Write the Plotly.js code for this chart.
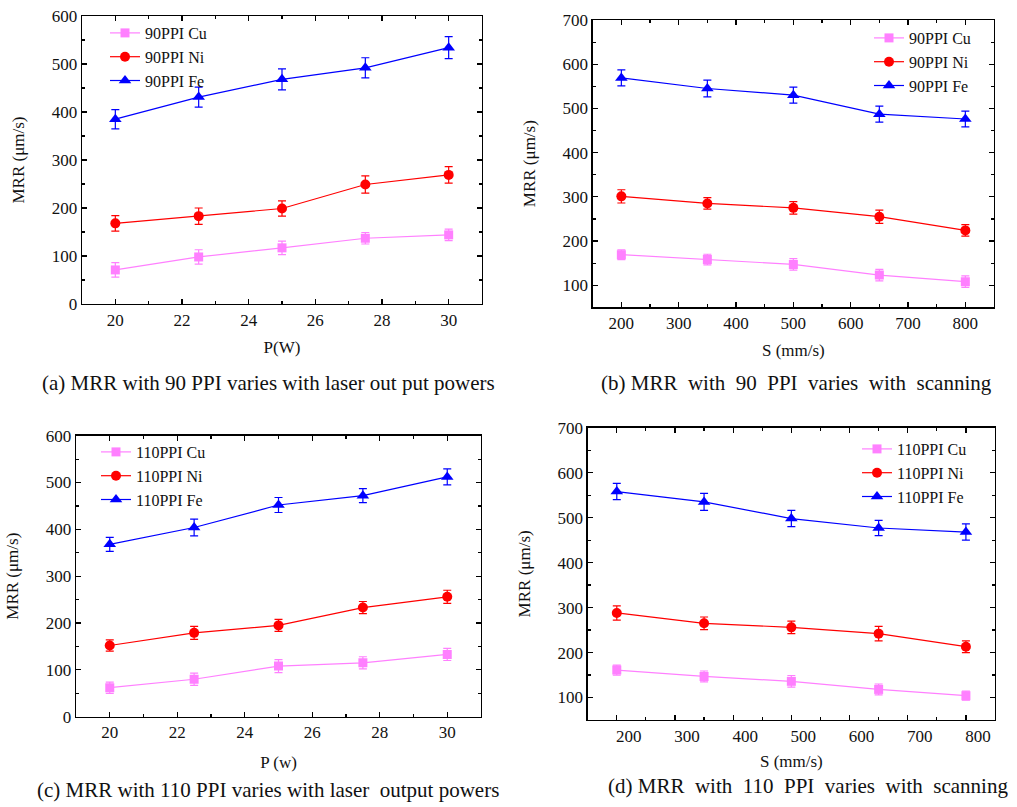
<!DOCTYPE html>
<html>
<head>
<meta charset="utf-8">
<script src="https://cdn.plot.ly/plotly-3.0.1.min.js"></script>
<style>html,body{margin:0;padding:0;background:#fff;}#chart{width:1017px;height:807px;}</style>
</head>
<body>
<div id="chart"></div>
<script>
// ---- Data ----
const powerW = [20, 22.5, 25, 27.5, 30];
const speedS = [200, 350, 500, 650, 800];

// (a) 90 PPI vs laser power
const cuA = [71, 98, 117, 137, 144];
const niA = [168, 183, 199, 249, 269];
const feA = [385, 431, 468, 492, 534];
const cuAErr = [15, 15, 14, 12, 12];
const niAErr = [16, 17, 16, 18, 17];
const feAErr = [20, 21, 22, 21, 23];

// (b) 90 PPI vs scanning speed
const cuB = [169, 158, 147, 123, 108];
const niB = [301, 285, 275, 255, 224];
const feB = [569, 545, 530, 487, 476];
const cuBErr = [11, 12, 13, 13, 13];
const niBErr = [15, 13, 14, 15, 13];
const feBErr = [18, 19, 18, 18, 18];

// (c) 110 PPI vs laser power
const cuC = [62, 80, 108, 115, 133];
const niC = [152, 179, 195, 233, 256];
const feC = [368, 404, 452, 472, 512];
const cuCErr = [12, 13, 14, 13, 13];
const niCErr = [12, 14, 13, 13, 14];
const feCErr = [15, 18, 16, 15, 17];

// (d) 110 PPI vs scanning speed
const cuD = [161, 147, 136, 118, 104];
const niD = [288, 265, 256, 242, 213];
const feD = [558, 535, 498, 477, 468];
const cuDErr = [11, 12, 13, 12, 10];
const niDErr = [16, 14, 14, 16, 13];
const feDErr = [18, 19, 18, 17, 18];

const seriesNames90 = ['90PPI Cu', '90PPI Ni', '90PPI Fe'];
const seriesNames110 = ['110PPI Cu', '110PPI Ni', '110PPI Fe'];
const captions = [
  '(a) MRR with 90 PPI varies with laser out put powers',
  '(b) MRR  with  90  PPI  varies  with  scanning',
  '(c) MRR with 110 PPI varies with laser  output powers',
  '(d) MRR  with  110  PPI  varies  with  scanning'
];

// ---- Styles ----
const FONT = "'Liberation Serif', 'Times New Roman', serif";
const styles = [
  {color: '#ff80ff', symbol: 'square', size: 9},
  {color: '#ff0000', symbol: 'circle', size: 10},
  {color: '#0000ff', symbol: 'triangle-up', size: 11}
];

function mk(x, y, err, i, name, xa, ya, legend) {
  const s = styles[i];
  return {
    x: x, y: y, name: name, type: 'scatter', mode: 'lines+markers',
    xaxis: xa, yaxis: ya, legend: legend,
    line: {color: s.color, width: 1.2},
    marker: {color: s.color, symbol: s.symbol, size: s.size},
    error_y: {type: 'data', array: err, visible: true, color: s.color, thickness: 1.2, width: 4}
  };
}

const traces = [
  mk(powerW, cuA, cuAErr, 0, seriesNames90[0], 'x', 'y', 'legend'),
  mk(powerW, niA, niAErr, 1, seriesNames90[1], 'x', 'y', 'legend'),
  mk(powerW, feA, feAErr, 2, seriesNames90[2], 'x', 'y', 'legend'),
  mk(speedS, cuB, cuBErr, 0, seriesNames90[0], 'x2', 'y2', 'legend2'),
  mk(speedS, niB, niBErr, 1, seriesNames90[1], 'x2', 'y2', 'legend2'),
  mk(speedS, feB, feBErr, 2, seriesNames90[2], 'x2', 'y2', 'legend2'),
  mk(powerW, cuC, cuCErr, 0, seriesNames110[0], 'x3', 'y3', 'legend3'),
  mk(powerW, niC, niCErr, 1, seriesNames110[1], 'x3', 'y3', 'legend3'),
  mk(powerW, feC, feCErr, 2, seriesNames110[2], 'x3', 'y3', 'legend3'),
  mk(speedS, cuD, cuDErr, 0, seriesNames110[0], 'x4', 'y4', 'legend4'),
  mk(speedS, niD, niDErr, 1, seriesNames110[1], 'x4', 'y4', 'legend4'),
  mk(speedS, feD, feDErr, 2, seriesNames110[2], 'x4', 'y4', 'legend4')
];

const W = 1017, H = 807;
function dx(a, b) { return [a / W, b / W]; }
function dy(top, bottom) { return [1 - bottom / H, 1 - top / H]; }

function axisBase(extra) {
  return Object.assign({
    showline: true, linecolor: '#000', linewidth: 1.3, mirror: 'ticks',
    ticks: 'inside', ticklen: 5, tickwidth: 1.2, tickcolor: '#000',
    showgrid: false, zeroline: false, automargin: false, fixedrange: true,
    tickfont: {family: FONT, size: 17, color: '#111'}
  }, extra);
}

function legendAt(xpx, ypx) {
  return {
    x: xpx / W, y: 1 - ypx / H, xanchor: 'left', yanchor: 'top',
    bgcolor: 'rgba(0,0,0,0)', borderwidth: 0,
    font: {family: FONT, size: 16, color: '#111'},
    tracegroupgap: 0, itemwidth: 30
  };
}

const TF = {family: FONT, size: 17, color: '#111'};

const layout = {
  width: W, height: H, margin: {l: 0, r: 0, t: 0, b: 0},
  paper_bgcolor: '#fff', plot_bgcolor: '#fff', showlegend: true,
  font: {family: FONT, color: '#111'},
  // (a)
  xaxis: axisBase({domain: dx(82, 482), anchor: 'y', range: [19, 31], dtick: 2, tick0: 20,
    minor: {ticks: 'inside', ticklen: 3, dtick: 1, tickcolor: '#000'},
    title: {text: 'P(W)', font: TF, standoff: 12}}),
  yaxis: axisBase({domain: dy(16, 304), anchor: 'x', range: [0, 600], dtick: 100,
    minor: {ticks: 'inside', ticklen: 3, dtick: 50, tickcolor: '#000'},
    title: {text: 'MRR (μm/s)', font: TF, standoff: 22}}),
  // (b)
  xaxis2: axisBase({domain: dx(592.7, 994), anchor: 'y2', range: [150, 850], dtick: 100, tick0: 200,
    minor: {ticks: 'inside', ticklen: 3, dtick: 50, tickcolor: '#000'},
    title: {text: 'S (mm/s)', font: TF, standoff: 12}}),
  yaxis2: axisBase({domain: dy(20, 307.3), anchor: 'x2', range: [50, 700], dtick: 100, tick0: 0,
    minor: {ticks: 'inside', ticklen: 3, dtick: 50, tickcolor: '#000'},
    title: {text: 'MRR (μm/s)', font: TF, standoff: 22}}),
  // (c)
  xaxis3: axisBase({domain: dx(76, 481), anchor: 'y3', range: [19, 31], dtick: 2, tick0: 20,
    minor: {ticks: 'inside', ticklen: 3, dtick: 1, tickcolor: '#000'},
    title: {text: 'P (w)', font: TF, standoff: 14}}),
  yaxis3: axisBase({domain: dy(435.7, 716.7), anchor: 'x3', range: [0, 600], dtick: 100,
    minor: {ticks: 'inside', ticklen: 3, dtick: 50, tickcolor: '#000'},
    title: {text: 'MRR (μm/s)', font: TF, standoff: 22}}),
  // (d)
  xaxis4: axisBase({domain: dx(587.7, 995), anchor: 'y4', range: [150, 850], dtick: 100, tick0: 200,
    ticklabelshift: 12,
    minor: {ticks: 'inside', ticklen: 3, dtick: 50, tickcolor: '#000'},
    title: {text: 'S (mm/s)', font: TF, standoff: 10}}),
  yaxis4: axisBase({domain: dy(427.7, 720), anchor: 'x4', range: [50, 700], dtick: 100, tick0: 0,
    minor: {ticks: 'inside', ticklen: 3, dtick: 50, tickcolor: '#000'},
    title: {text: 'MRR (μm/s)', font: TF, standoff: 22}}),
  legend: legendAt(105, 16),
  legend2: legendAt(869, 21),
  legend3: legendAt(96, 435),
  legend4: legendAt(857, 432),
  annotations: [
    {text: captions[0], x: 268 / W, y: 1 - 383 / H},
    {text: captions[1], x: 796 / W, y: 1 - 383 / H},
    {text: captions[2], x: 268 / W, y: 1 - 790 / H},
    {text: captions[3], x: 808 / W, y: 1 - 786 / H}
  ].map(a => Object.assign({xref: 'paper', yref: 'paper', xanchor: 'center', yanchor: 'middle',
    showarrow: false, font: {family: FONT, size: 21, color: '#111'}}, a))
};

Plotly.newPlot('chart', traces, layout, {displayModeBar: false, staticPlot: true});
</script>
</body>
</html>
